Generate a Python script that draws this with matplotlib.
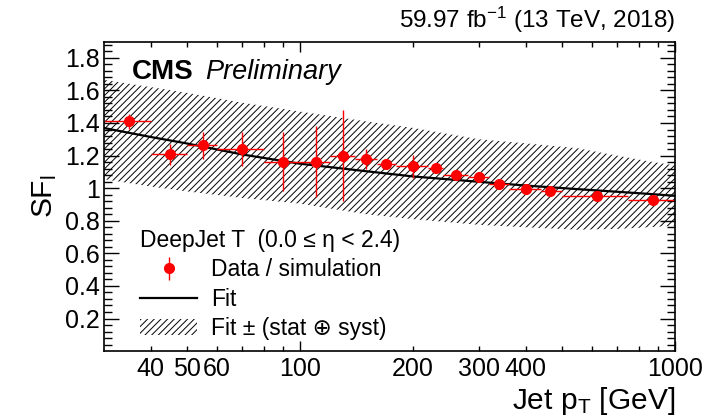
import numpy as np
import matplotlib
matplotlib.use("Agg")
import matplotlib.pyplot as plt
from matplotlib.ticker import FixedLocator, FixedFormatter
from matplotlib.patches import Patch
from matplotlib.lines import Line2D

plt.rcParams['font.family'] = ['Liberation Sans', 'DejaVu Sans']
plt.rcParams['mathtext.fontset'] = 'custom'
plt.rcParams['mathtext.rm'] = 'Liberation Sans'
plt.rcParams['mathtext.it'] = 'Liberation Sans:italic'
plt.rcParams['mathtext.bf'] = 'Liberation Sans:bold'
plt.rcParams['hatch.linewidth'] = 0.7

# Data / simulation points (bin centre, bin edges, SF, error)
pt = [35, 45, 55, 70, 90, 110, 130, 150, 170, 200, 230, 260, 300, 340, 400, 465, 620, 875]
pt_lo = [30, 40, 50, 60, 80, 100, 120, 140, 160, 180, 220, 240, 280, 320, 360, 440, 500, 750]
pt_hi = [40, 50, 60, 80, 100, 120, 140, 160, 180, 220, 240, 280, 320, 360, 440, 500, 750, 1000]
sf = [1.41, 1.209, 1.262, 1.241, 1.162, 1.163, 1.20, 1.178, 1.149, 1.133, 1.122, 1.078,
      1.070, 1.026, 0.993, 0.980, 0.952, 0.928]
sf_err = [0.046, 0.065, 0.081, 0.103, 0.18, 0.22, 0.28, 0.06, 0.025, 0.072, 0.02, 0.02,
          0.016, 0.016, 0.02, 0.016, 0.016, 0.016]

# Fit curve and its uncertainty band
pt_fit = [30, 40, 50, 70, 100, 150, 200, 300, 400, 550, 700, 850, 1000]
fit = [1.369, 1.314, 1.274, 1.207, 1.150, 1.104, 1.072, 1.039, 1.016, 0.994, 0.978, 0.965, 0.953]
band_hi = [1.665, 1.62, 1.585, 1.525, 1.47, 1.41, 1.37, 1.30, 1.275, 1.245, 1.20, 1.165, 1.14]
band_lo = [1.055, 1.01, 0.98, 0.94, 0.905, 0.84, 0.81, 0.775, 0.76, 0.745, 0.75, 0.76, 0.77]

xtick_major = [100, 1000]
xtick_minor = [40, 50, 60, 70, 80, 90, 200, 300, 400, 500, 600, 700, 800, 900]
xtick_minor_labels = ['40', '50', '60', '', '', '', '200', '300', '400', '', '', '', '', '']
ytick_major = [0.2, 0.4, 0.6, 0.8, 1.0, 1.2, 1.4, 1.6, 1.8]

fig = plt.figure(figsize=(7.15, 4.18), dpi=100)
ax = fig.add_axes([0.1455, 0.160, 0.7985, 0.7407])

pt = np.array(pt)
xerr = [pt - np.array(pt_lo), np.array(pt_hi) - pt]

# band
ax.fill_between(pt_fit, band_lo, band_hi, facecolor='none', edgecolor='black',
                hatch='/////', linewidth=0)
# fit
ax.plot(pt_fit, fit, color='black', lw=1.6)
# points
ax.errorbar(pt, sf, xerr=xerr, yerr=sf_err, fmt='o', color='red', ms=7,
            elinewidth=1.0, capsize=0)

ax.set_xscale('log')
ax.set_xlim(30, 1000)
ax.set_ylim(0, 1.9)

ax.xaxis.set_major_locator(FixedLocator(xtick_major))
ax.xaxis.set_major_formatter(FixedFormatter([str(v) for v in xtick_major]))
ax.xaxis.set_minor_locator(FixedLocator(xtick_minor))
ax.xaxis.set_minor_formatter(FixedFormatter(xtick_minor_labels))
ax.yaxis.set_major_locator(FixedLocator(ytick_major))
ax.yaxis.set_major_formatter(FixedFormatter(['%g' % v for v in ytick_major]))
ax.yaxis.set_minor_locator(FixedLocator(np.arange(0.04, 1.9, 0.04)))

ax.tick_params(which='both', direction='in', top=True, right=True, labelsize=18,
               width=1.0)
ax.tick_params(axis='y', which='major', length=10.5, pad=3)
ax.tick_params(axis='y', which='minor', length=5.5)
ax.tick_params(axis='x', which='major', length=7.2, pad=4.5)
ax.tick_params(axis='x', which='minor', length=3.6, pad=4.5)
for s in ax.spines.values():
    s.set_linewidth(1.2)

ax.set_ylabel(r'SF$_\mathregular{l}$', fontsize=21.5, labelpad=4)
ax.set_xlabel(r'Jet p$_\mathregular{T}$ [GeV]', fontsize=21.5, ha='right')
ax.xaxis.set_label_coords(1.0, -0.11)

ax.text(1.0, 1.044, r'59.97 fb$^{\mathregular{-1}}$ (13 TeV, 2018)', transform=ax.transAxes,
        ha='right', va='baseline', fontsize=17.5)
ax.text(0.049, 0.879, 'CMS', transform=ax.transAxes, fontsize=20,
        fontweight='bold', va='baseline')
ax.text(0.178, 0.879, 'Preliminary', transform=ax.transAxes, fontsize=19.5,
        style='italic', va='baseline')

data_h = ax.errorbar([np.nan], [np.nan], yerr=[0.1], fmt='o', color='red', ms=7,
                     elinewidth=1.0, capsize=0)
fit_h = Line2D([], [], color='black', lw=1.6)
band_h = Patch(facecolor='none', edgecolor='black', hatch='/////', linewidth=0)
leg = ax.legend([data_h, fit_h, band_h],
                ['Data / simulation', 'Fit', 'Fit \u00b1 (stat \u2295 syst)'],
                title='DeepJet T  (0.0 \u2264 \u03b7 < 2.4)', loc='lower left',
                bbox_to_anchor=(0.063, 0.036), frameon=False, fontsize=16.5,
                title_fontsize=16.5, alignment='left', handlelength=2.5,
                handletextpad=0.6, labelspacing=0.28, borderaxespad=0, borderpad=0)

fig.savefig('out.png', dpi=100)
